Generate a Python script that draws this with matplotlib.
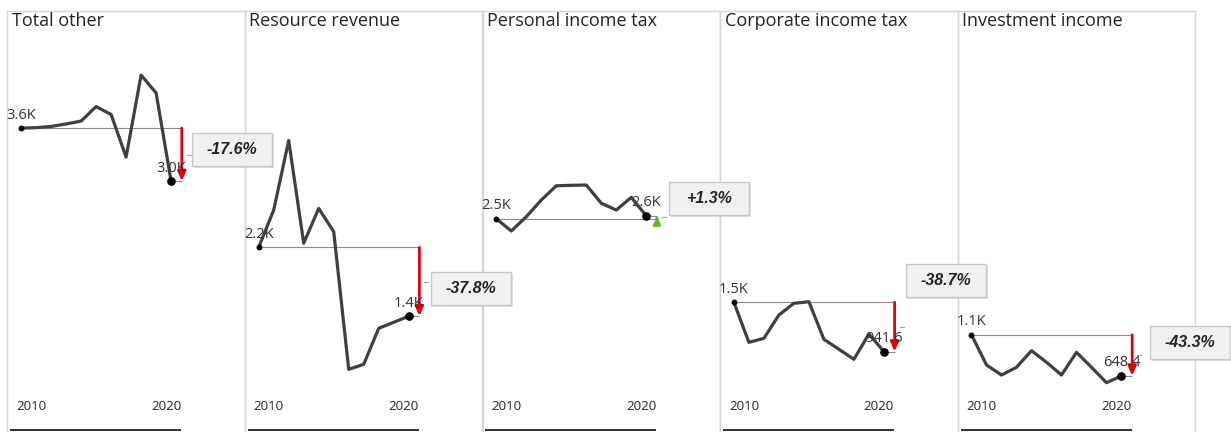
import matplotlib
matplotlib.use("Agg")
import matplotlib.pyplot as plt
from matplotlib.patches import Rectangle
from matplotlib.lines import Line2D
from matplotlib.transforms import IdentityTransform

plt.rcParams['font.family'] = ['Open Sans', 'DejaVu Sans']

# ---- data -------------------------------------------------------------
years = list(range(2010, 2021))
titles = ["Total other", "Resource revenue", "Personal income tax",
          "Corporate income tax", "Investment income"]

total_other = [3640, 3645, 3660, 3690, 3725, 3900, 3805, 3290, 4280, 4065, 3000]
resource_revenue = [2200, 2650, 3490, 2250, 2670, 2390, 727, 787, 1222, 1295, 1368]
personal_income_tax = [2546, 2397, 2570, 2772, 2944, 2949, 2953, 2732, 2651, 2804, 2579]
corporate_income_tax = [1536, 1053, 1101, 1383, 1524, 1543, 1089, 969, 848, 1153, 941.6]
investment_income = [1143.5, 779, 658, 751, 952, 812, 658, 932, 751, 565, 648.4]

series = [total_other, resource_revenue, personal_income_tax,
          corporate_income_tax, investment_income]

# ---- layout (pixels) ----------------------------------------------------
W_PX, H_PX, DPI = 1231, 432, 100
panel_left0 = 7.3
panel_w = 237.6
panel_top = 11
panel_bottom = 445
first_inset = 13.8
px_per_year = 15.0
zero_px = 429.5
px_per_unit = 0.0828

# variance-box placement, relative to the middle of each arrow
box_dx = [10, 12, 12, 11, 18]
box_dy = [5, -7, 19, 46, 13]
box_w, box_h = 80, 33

LINE = '#404040'
FRAME = '#d6d6d6'
TEXT = '#252423'
RED = '#e3000f'
GREEN = '#6ab42d'


def fmt(v):
    return f"{v / 1000:.1f}K" if v >= 1000 else f"{v:.1f}"


fig = plt.figure(figsize=(W_PX / DPI, H_PX / DPI), dpi=DPI)
fig.patch.set_facecolor('white')

y_top = (zero_px - panel_top) / px_per_unit
y_bot = -(panel_bottom - zero_px) / px_per_unit
x_lo = years[0] - first_inset / px_per_year
x_hi = years[0] + (panel_w - first_inset) / px_per_year
arrow_gap = 10.7 / px_per_year

boxes = []
for i, (title, vals) in enumerate(zip(titles, series)):
    left = panel_left0 + i * panel_w
    ax = fig.add_axes([left / W_PX, (H_PX - panel_bottom) / H_PX,
                       panel_w / W_PX, (panel_bottom - panel_top) / H_PX])
    ax.set_xlim(x_lo, x_hi)
    ax.set_ylim(y_bot, y_top)
    ax.set_xticks([])
    ax.set_yticks([])
    ax.set_facecolor('none')
    for side in ('top', 'left', 'right'):
        ax.spines[side].set_color(FRAME)
        ax.spines[side].set_linewidth(1.0)
    ax.spines['bottom'].set_visible(False)

    first, last = vals[0], vals[-1]
    ax_x = years[-1] + arrow_gap

    # reference lines at the first and last values
    ax.hlines(first, years[0], ax_x, color='#8c8c8c', lw=0.8, zorder=2)
    ax.hlines(last, years[-1], ax_x, color='#8c8c8c', lw=0.8, zorder=2)

    # the series
    ax.plot(years, vals, color=LINE, lw=2.3, zorder=3)
    ax.plot(years[0], first, 'o', ms=3.2, color='black', zorder=4)
    ax.plot(years[-1], last, 'o', ms=5.2, color='black', zorder=4)

    # change arrow
    down = last < first
    col = RED if down else GREEN
    ax.annotate('', xy=(ax_x, last), xytext=(ax_x, first),
                arrowprops=dict(arrowstyle='-|>,head_length=0.5,head_width=0.22',
                                color=col, lw=2.0, shrinkA=0, shrinkB=0,
                                mutation_scale=11 if down else 9), zorder=5)

    # value labels
    for x, v in ((years[0], first), (years[-1], last)):
        ax.annotate(fmt(v), xy=(x, v), xytext=(0, 9.5), textcoords='offset pixels',
                    ha='center', va='baseline', fontsize=10.5, color='#333333', zorder=6)

    # category axis
    ax.hlines(0, years[0] - 0.73, years[-1] + 0.67, color='#222222', lw=1.3)
    ax.annotate(str(years[0]), xy=(years[0], 0), xytext=(-5, 19),
                textcoords='offset pixels', ha='left', va='baseline',
                fontsize=9.5, color=TEXT)
    ax.annotate(str(years[-1]), xy=(years[-1], 0), xytext=(10, 19),
                textcoords='offset pixels', ha='right', va='baseline',
                fontsize=9.5, color=TEXT)

    # panel title
    ax.annotate(title, xy=(0, 1), xycoords='axes fraction', xytext=(4.5, -1),
                textcoords='offset pixels', ha='left', va='top',
                fontsize=13, color=TEXT)

    boxes.append((ax, ax_x, (first + last) / 2, last / first - 1))

# variance boxes are figure-level so they can overlap neighbouring panels
for i, (ax, ax_x, mid, pct) in enumerate(boxes):
    px, py = ax.transData.transform((ax_x, mid))
    bl = px + box_dx[i]
    cy = py + box_dy[i]
    fig.add_artist(Line2D([px + 5, px + 9], [py, py], color='#a0a0a0', lw=0.8,
                          transform=IdentityTransform(), zorder=8))
    fig.add_artist(Rectangle((bl + 2, cy - box_h / 2 - 2), box_w, box_h,
                             facecolor='#b8b8b8', edgecolor='none', alpha=0.45,
                             transform=IdentityTransform(), zorder=9))
    fig.add_artist(Rectangle((bl, cy - box_h / 2), box_w, box_h,
                             facecolor='#f0f0f0', edgecolor='#c8c8c8', lw=1.0,
                             transform=IdentityTransform(), zorder=10))
    fig.text(bl + box_w / 2, cy, f"{pct:+.1%}", transform=IdentityTransform(),
             ha='center', va='center', fontsize=11.5, fontweight='bold',
             fontstyle='italic', color=TEXT, zorder=11,
             family=['Liberation Sans', 'DejaVu Sans'])

fig.savefig('out.png', dpi=DPI)
